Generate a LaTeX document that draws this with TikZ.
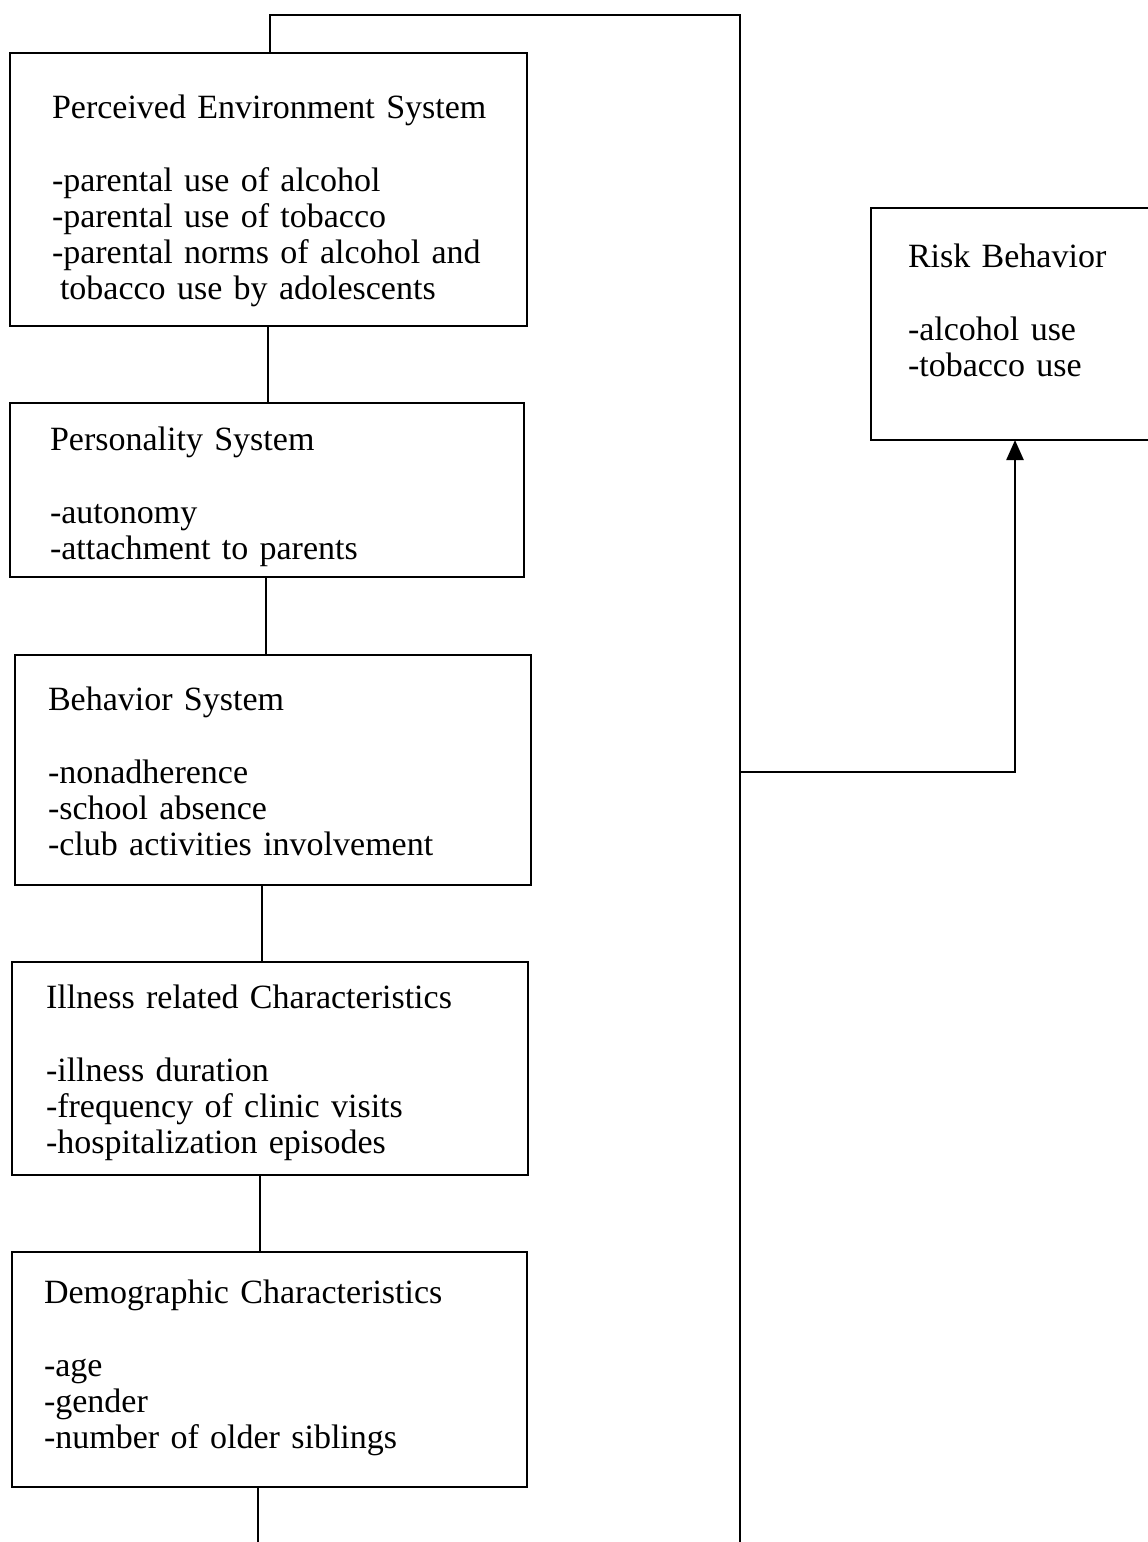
\documentclass[tikz,border=0pt]{standalone}
\usepackage{fontspec}
\setmainfont{Liberation Serif}
\usetikzlibrary{arrows.meta}
\begin{document}
\begin{tikzpicture}[x=1pt,y=-1pt,
  box/.style={draw, line width=2.5pt, rectangle, inner sep=0pt, outer sep=0pt, anchor=north west},
  txt/.style={anchor=base west, inner sep=0pt, outer sep=0pt, text width=490pt, align=left,
     font=\fontsize{34}{36}\selectfont},
  link/.style={line width=2.5pt},
  arr/.style={line width=2.5pt, -{Triangle[width=17pt,length=20pt]}}]
\useasboundingbox[fill=white] (0,0) rectangle (1148,1542);

\node[box, minimum width=517pt, minimum height=273pt] (pe) at (10,53) {};
\node[box, minimum width=514pt, minimum height=174pt] (ps) at (10,403) {};
\node[box, minimum width=516pt, minimum height=230pt] (bs) at (15,655) {};
\node[box, minimum width=516pt, minimum height=213pt] (ic) at (12,962) {};
\node[box, minimum width=515pt, minimum height=235pt] (dc) at (12,1252) {};
\node[box, minimum width=290pt, minimum height=232pt] (rb) at (871,208) {};

\node[txt] (pet) at (52,118) {Perceived Environment System\\[37pt]
-parental use of alcohol\\-parental use of tobacco\\-parental norms of alcohol and\\\hspace*{8pt}tobacco use by adolescents};
\node[txt] (pst) at (50,450) {Personality System\\[37pt]-autonomy\\-attachment to parents};
\node[txt] (bst) at (48,710) {Behavior System\\[37pt]-nonadherence\\-school absence\\-club activities involvement};
\node[txt] (ict) at (46,1008) {Illness related Characteristics\\[37pt]-illness duration\\-frequency of clinic visits\\-hospitalization episodes};
\node[txt] (dct) at (44,1303) {Demographic Characteristics\\[37pt]-age\\-gender\\-number of older siblings};
\node[txt] (rbt) at (908,267) {Risk Behavior\\[37pt]-alcohol use\\-tobacco use};

\coordinate (tl) at (270,15);
\coordinate (tr) at (740,15);
\coordinate (br) at (740,1542);
\coordinate (jn) at (740,772);
\coordinate (bend) at (1015,772);
\coordinate (bot) at (258,1542);

\draw[link] (270,0 |- pe.north) -- (tl) -- (tr) -- (br);
\draw[link] (268,0 |- pe.south) -- (268,0 |- ps.north);
\draw[link] (266,0 |- ps.south) -- (266,0 |- bs.north);
\draw[link] (262,0 |- bs.south) -- (262,0 |- ic.north);
\draw[link] (260,0 |- ic.south) -- (260,0 |- dc.north);
\draw[link] (258,0 |- dc.south) -- (bot);
\draw[arr] (jn) -- (bend) -- (1015,0 |- rb.south);
\end{tikzpicture}
\end{document}
